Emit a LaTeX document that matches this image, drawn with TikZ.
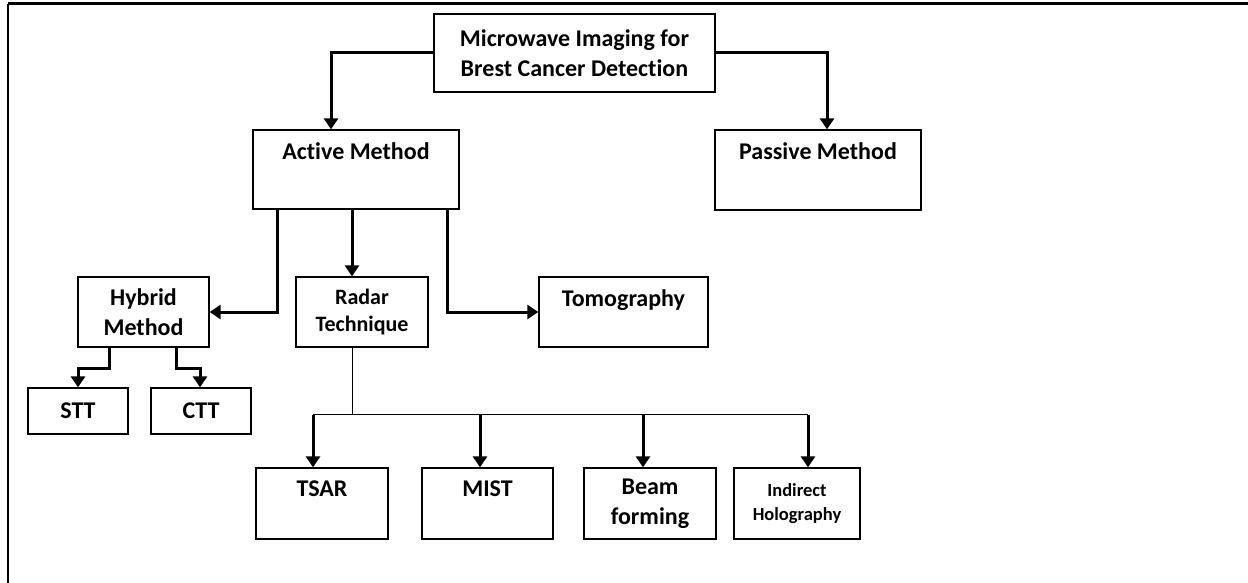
\documentclass[tikz,border=0pt]{standalone}
\usepackage{fontspec}
\setmainfont{Carlito}[Ligatures=NoCommon]
\usepackage{tikz}
\usetikzlibrary{arrows.meta, positioning}

\tikzset{
  box/.style={draw, line width=1.3pt, rectangle, inner sep=0pt, align=center,
              font=\fontsize{24}{30}\selectfont\bfseries},
  toplbl/.style={anchor=north, inner sep=0pt, yshift=-13pt,
              font=\fontsize{24}{30}\selectfont\bfseries},
  arr/.style={line width=3pt, -{Triangle[length=11pt,width=14pt]}},
}

\begin{document}
\begin{tikzpicture}[x=1pt, y=-1pt]
\useasboundingbox (0,0) rectangle (1248,583);
\draw[line width=3pt] (8,4) -- (1248,4);
\draw[line width=2pt] (8,4) -- (8,583);

\node[box, minimum width=281pt, minimum height=78pt] (micro) at (574.5,53)
  {Microwave Imaging for\\Brest Cancer Detection};
\node[box, minimum width=206pt, minimum height=79pt,
  label={[toplbl]north:Active Method}] (active) at (356,169.5) {};
\node[box, minimum width=206pt, minimum height=80pt,
  label={[toplbl]north:Passive Method}] (passive) at (818,170) {};

\node[box, minimum width=131pt, minimum height=70pt] (hybrid) at (143.5,312) {Hybrid\\Method};
\node[box, minimum width=132pt, minimum height=70pt,
  font=\fontsize{22}{27}\selectfont\bfseries] (radar) at (362,312) {Radar\\Technique};
\node[box, minimum width=169pt, minimum height=70pt,
  label={[toplbl]north:Tomography}] (tomo) at (623.5,312) {};

\node[box, minimum width=100pt, minimum height=46pt] (stt) at (78,411) {STT};
\node[box, minimum width=100pt, minimum height=46pt] (ctt) at (201,411) {CTT};

\node[box, minimum width=132pt, minimum height=71pt,
  label={[toplbl]north:TSAR}] (tsar) at (322,503.5) {};
\node[box, minimum width=131pt, minimum height=71pt,
  label={[toplbl]north:MIST}] (mist) at (487.5,503.5) {};
\node[box, minimum width=132pt, minimum height=71pt] (beam) at (650,503.5) {Beam\\forming};
\node[box, minimum width=126pt, minimum height=71pt,
  font=\fontsize{18.5}{24}\selectfont\bfseries] (holo) at (797,503.5) {Indirect\\Holography};

\draw[arr] (micro.west) -| ([xshift=-25pt]active.north);
\draw[arr] (micro.east) -| ([xshift=9pt]passive.north);

\draw[arr] ([xshift=-79pt]active.south) |- (hybrid.east);
\draw[arr] ([xshift=-4pt]active.south) -- ([xshift=-4pt]active.south |- radar.north);
\draw[arr] ([xshift=91pt]active.south) |- (tomo.west);

\draw[arr] ([xshift=-34.5pt]hybrid.south) -- ++(0,21) -| (stt.north);
\draw[arr] ([xshift=32.5pt]hybrid.south) -- ++(0,21) -| ([xshift=-1pt]ctt.north);

\coordinate (bus) at ([xshift=-10pt,yshift=-67pt]radar.south);
\draw[line width=1pt] ([xshift=-10pt]radar.south) -- (bus);
\draw[line width=1.3pt] ([xshift=-9pt]tsar.north |- bus) -- ([xshift=11pt]holo.north |- bus);
\foreach \n/\dx in {tsar/-9, mist/-7.5, beam/-7, holo/11}
  \draw[arr] ([xshift=\dx pt]\n.north |- bus) -- ([xshift=\dx pt]\n.north);
\end{tikzpicture}
\end{document}
